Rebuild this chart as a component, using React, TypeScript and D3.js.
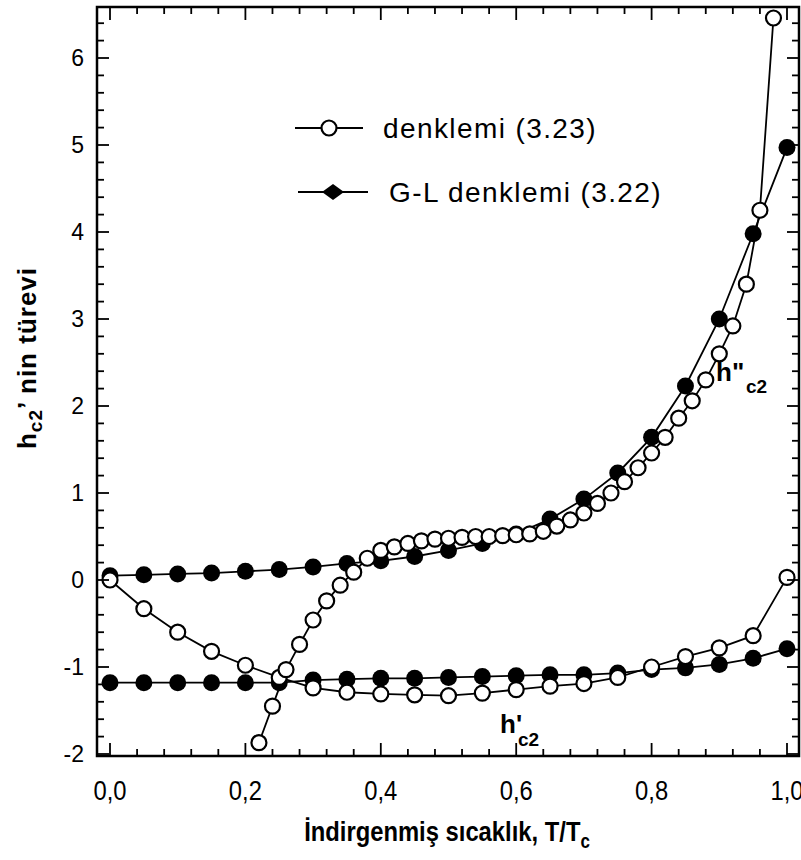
import React from "react";
import * as d3 from "d3";

// ---- data ----
const tFull = [0, 0.05, 0.1, 0.15, 0.2, 0.25, 0.3, 0.35, 0.4, 0.45, 0.5, 0.55, 0.6, 0.65, 0.7, 0.75, 0.8, 0.85, 0.9, 0.95, 1.0];
// G-L denklemi (3.22): h''c2 (filled, upper) and h'c2 (filled, lower)
const glSecond = [0.05, 0.06, 0.07, 0.08, 0.10, 0.12, 0.15, 0.19, 0.22, 0.27, 0.34, 0.42, 0.53, 0.70, 0.93, 1.23, 1.64, 2.23, 3.00, 3.98, 4.97];
const glFirst = [-1.18, -1.18, -1.18, -1.18, -1.18, -1.18, -1.15, -1.14, -1.13, -1.13, -1.12, -1.11, -1.10, -1.09, -1.09, -1.07, -1.03, -1.01, -0.97, -0.90, -0.79];
// denklemi (3.23): h'c2 (open, lower)
const eqFirst = [0.0, -0.33, -0.6, -0.82, -0.98, -1.12, -1.24, -1.29, -1.31, -1.32, -1.33, -1.30, -1.26, -1.22, -1.19, -1.12, -1.0, -0.88, -0.78, -0.64, 0.03];
// denklemi (3.23): h''c2 (open, upper)
const tDense = [0.22, 0.24, 0.26, 0.28, 0.30, 0.32, 0.34, 0.36, 0.38, 0.40, 0.42, 0.44, 0.46, 0.48, 0.50, 0.52, 0.54, 0.56, 0.58, 0.60, 0.62, 0.64, 0.66, 0.68, 0.70, 0.72, 0.74, 0.76, 0.78, 0.80, 0.82, 0.84, 0.86, 0.88, 0.90, 0.92, 0.94, 0.96, 0.98];
const eqSecond = [-1.87, -1.45, -1.03, -0.74, -0.46, -0.24, -0.06, 0.09, 0.25, 0.34, 0.38, 0.42, 0.45, 0.47, 0.48, 0.49, 0.50, 0.50, 0.51, 0.52, 0.53, 0.56, 0.62, 0.69, 0.77, 0.88, 1.0, 1.13, 1.29, 1.46, 1.64, 1.86, 2.06, 2.30, 2.60, 2.92, 3.40, 4.25, 6.46];

const xTickValues = [0, 0.2, 0.4, 0.6, 0.8, 1.0];
const xTickLabels = ["0,0", "0,2", "0,4", "0,6", "0,8", "1,0"];
const yTickValues = [-2, -1, 0, 1, 2, 3, 4, 5, 6];
const yTickLabels = ["-2", "-1", "0", "1", "2", "3", "4", "5", "6"];
const legendLabels = ["denklemi (3.23)", "G-L denklemi (3.22)"];

export default function App() {
  const W = 801, H = 860;
  const left = 97, right = 799, top = 7, bottom = 756;
  const x = d3.scaleLinear().domain([0, 1]).range([110, 787]);
  const y = d3.scaleLinear().domain([-2, 6]).range([754, 58]);

  const line = d3.line<[number, number]>().x(d => x(d[0])).y(d => y(d[1]));
  const pts = (ts: number[], vs: number[]) => ts.map((t, i) => [t, vs[i]] as [number, number]);

  const xMinor = d3.range(0, 1.0001, 0.04).filter(v => v <= x.invert(right));
  const yMinor = d3.range(-2, y.invert(top), 0.2);

  const lineFont = "'Liberation Sans', Arial, sans-serif";
  const openR = 7.5, fillR = 8.5;

  const series = [
    { d: pts(tFull, glSecond), open: false },
    { d: pts(tFull, glFirst), open: false },
    { d: pts(tFull, eqFirst), open: true },
    { d: pts(tDense, eqSecond), open: true },
  ];

  return (
    <svg width={W} height={H} style={{ position: "absolute", left: 0, top: 0, background: "#fff" }}>
      <rect x={0} y={0} width={W} height={H} fill="#fff" />
      {/* lines */}
      {series.map((s, i) => (
        <path key={"l" + i} d={line(s.d) || ""} fill="none" stroke="#000" strokeWidth={1.8} />
      ))}
      {/* markers */}
      {series.map((s, i) => (
        <g key={"m" + i}>
          {s.d.map((p, j) =>
            s.open ? (
              <circle key={j} cx={x(p[0])} cy={y(p[1])} r={openR} fill="#fff" stroke="#000" strokeWidth={2.2} />
            ) : (
              <circle key={j} cx={x(p[0])} cy={y(p[1])} r={fillR} fill="#000" />
            )
          )}
        </g>
      ))}

      {/* frame */}
      <rect x={left} y={top} width={right - left} height={bottom - top} fill="none" stroke="#000" strokeWidth={2.5} />

      {/* x ticks bottom & top */}
      {xMinor.map((v, i) => {
        const major = xTickValues.some(m => Math.abs(m - v) < 1e-6);
        const len = major ? 13 : 7;
        return (
          <g key={"xt" + i}>
            <line x1={x(v)} x2={x(v)} y1={bottom} y2={bottom - len} stroke="#000" strokeWidth={1.8} />
            <line x1={x(v)} x2={x(v)} y1={top} y2={top + len} stroke="#000" strokeWidth={1.8} />
          </g>
        );
      })}
      {/* y ticks left & right */}
      {yMinor.map((v, i) => {
        const major = yTickValues.some(m => Math.abs(m - v) < 1e-6);
        const len = major ? 12 : 7;
        return (
          <g key={"yt" + i}>
            <line x1={left} x2={left + len} y1={y(v)} y2={y(v)} stroke="#000" strokeWidth={1.8} />
            <line x1={right} x2={right - len} y1={y(v)} y2={y(v)} stroke="#000" strokeWidth={1.8} />
          </g>
        );
      })}

      {/* x tick labels */}
      {xTickValues.map((v, i) => (
        <g key={"xl" + i} transform={`translate(${x(v)},${800}) scale(0.85,1)`}>
          <text textAnchor="middle" fontFamily={lineFont} fontSize={28} fill="#000">{xTickLabels[i]}</text>
        </g>
      ))}
      {/* y tick labels */}
      {yTickValues.map((v, i) => (
        <text key={"yl" + i} x={84} y={y(v)} dy="0.36em" textAnchor="end" fontFamily={lineFont} fontSize={23} fill="#000">
          {yTickLabels[i]}
        </text>
      ))}

      {/* axis titles */}
      <g transform={`translate(447,841) scale(0.85,1)`}>
        <text textAnchor="middle" fontFamily={lineFont} fontWeight="bold" fontSize={28} fill="#000">
          İndirgenmiş sıcaklık, T/T<tspan fontSize={20} dy={7}>c</tspan>
        </text>
      </g>
      <g transform={`translate(36,358) rotate(-90)`}>
        <text textAnchor="middle" fontFamily={lineFont} fontWeight="bold" fontSize={26} letterSpacing={1} fill="#000">
          h<tspan fontSize={19} dy={6}>c2</tspan><tspan dy={-6}>’ nin türevi</tspan>
        </text>
      </g>

      {/* curve labels */}
      <text x={500} y={733} fontFamily={lineFont} fontWeight="bold" fontSize={26} fill="#000">h'</text>
      <text x={518} y={746} fontFamily={lineFont} fontWeight="bold" fontSize={19} fill="#000">c2</text>
      <text x={716} y={381} fontFamily={lineFont} fontWeight="bold" fontSize={26} fill="#000">h"</text>
      <text x={746} y={393} fontFamily={lineFont} fontWeight="bold" fontSize={19} fill="#000">c2</text>

      {/* legend */}
      <g>
        <line x1={295} x2={363} y1={128} y2={128} stroke="#000" strokeWidth={1.8} />
        <circle cx={329} cy={128} r={7.5} fill="#fff" stroke="#000" strokeWidth={2.2} />
        <text x={383} y={128} dy="0.36em" fontFamily={lineFont} fontSize={28} letterSpacing={1.4} fill="#000">{legendLabels[0]}</text>
        <line x1={298} x2={368} y1={192} y2={192} stroke="#000" strokeWidth={1.8} />
        <path d={`M${333 - 11},192 L${333},${192 - 8} L${333 + 11},192 L${333},${192 + 8} Z`} fill="#000" />
        <text x={389} y={192} dy="0.36em" fontFamily={lineFont} fontSize={28} letterSpacing={1.4} fill="#000">{legendLabels[1]}</text>
      </g>
    </svg>
  );
}
